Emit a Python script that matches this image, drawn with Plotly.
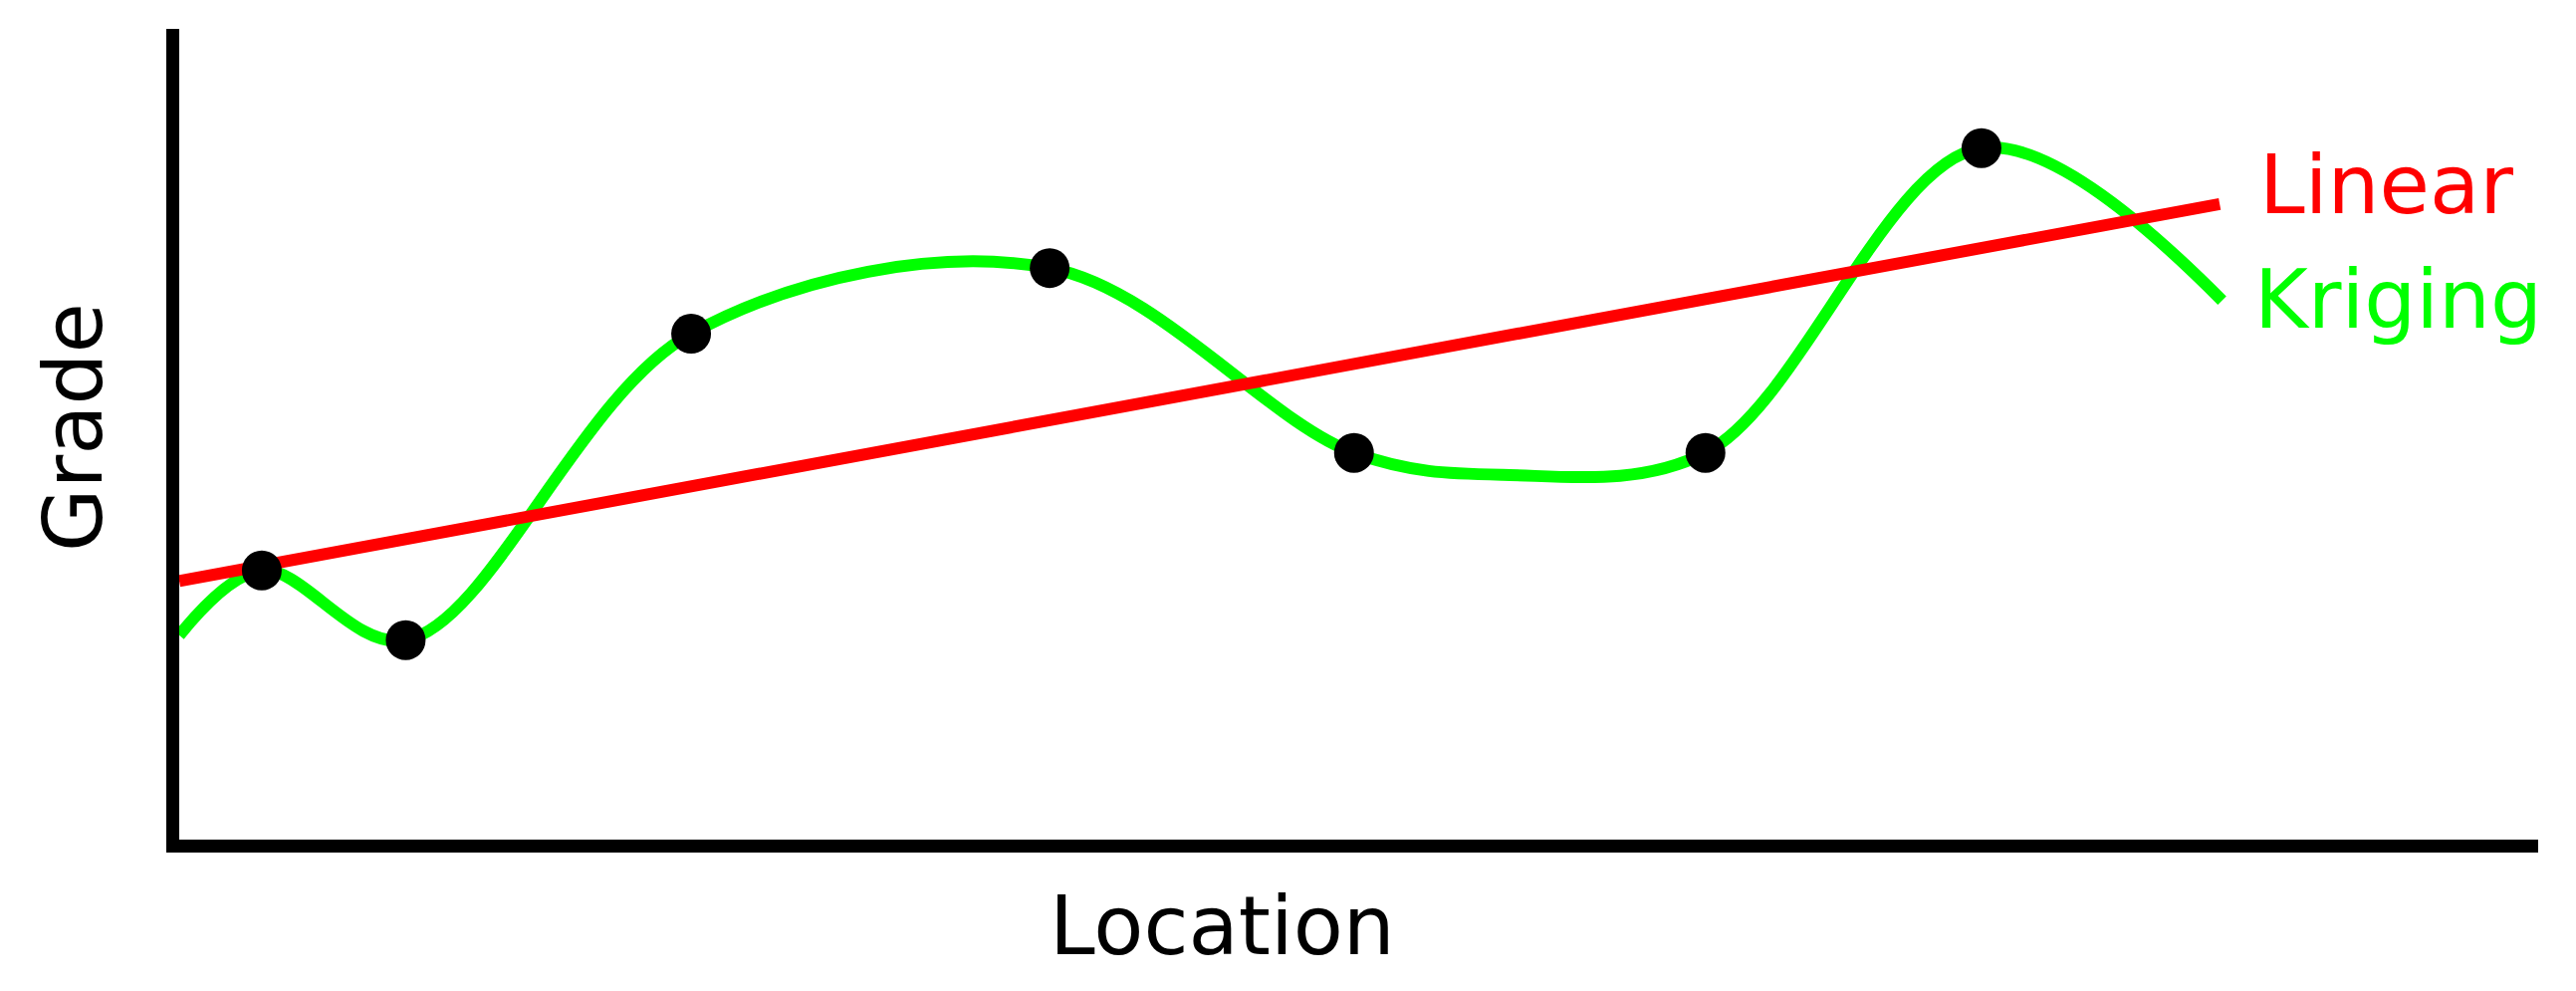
import plotly.graph_objects as go

# Sample locations and grades (the black dots)
sample_x = [3.5, 9.6, 21.7, 36.9, 49.8, 64.7, 76.4]
sample_y = [33.2, 24.6, 62.4, 70.5, 47.7, 47.7, 85.3]

# Kriging curve (passes through the samples)
kriging_x = [0.0, 3.5, 9.6, 21.7, 36.9, 49.8, 56.1, 64.7, 76.4, 86.6]
kriging_y = [25.2, 33.2, 24.6, 62.4, 70.5, 47.7, 45.0, 47.7, 85.3, 66.5]

# Linear trend end points
linear_x = [0.0, 86.5]
linear_y = [31.9, 78.4]

FONT = "DejaVu Sans"
RED = "#ff0000"
GREEN = "#00ff00"

fig = go.Figure()
fig.add_trace(go.Scatter(
    x=kriging_x, y=kriging_y,
    mode="lines",
    line=dict(color=GREEN, width=12, shape="spline", smoothing=1.0),
    hoverinfo="skip"
))
fig.add_trace(go.Scatter(
    x=linear_x, y=linear_y,
    mode="lines",
    line=dict(color=RED, width=12),
    hoverinfo="skip"
))
fig.add_trace(go.Scatter(
    x=sample_x, y=sample_y,
    mode="markers",
    marker=dict(color="black", size=40),
    cliponaxis=False
))

# Line labels next to the line ends
fig.add_annotation(x=88.1, y=80.8, text="Linear", showarrow=False,
                   xanchor="left", yanchor="middle",
                   font=dict(family=FONT, size=82, color=RED))
fig.add_annotation(x=87.9, y=66.7, text="Kriging", showarrow=False,
                   xanchor="left", yanchor="middle",
                   font=dict(family=FONT, size=82, color=GREEN))

# Axis labels
fig.add_annotation(x=0.442, y=-0.106, xref="paper", yref="paper",
                   text="Location", showarrow=False,
                   xanchor="center", yanchor="middle",
                   font=dict(family=FONT, size=82, color="black"))
fig.add_annotation(x=-0.045, y=0.509, xref="paper", yref="paper",
                   text="Grade", showarrow=False, textangle=-90,
                   xanchor="center", yanchor="middle",
                   font=dict(family=FONT, size=82, color="black"))

# the page body has an 8px margin, so the figure is a little smaller
fig.update_layout(
    width=2571,
    height=979,
    margin=dict(l=172, r=30, t=21, b=144),
    plot_bgcolor="white",
    paper_bgcolor="white",
    showlegend=False,
    xaxis=dict(range=[0, 100], showgrid=False, zeroline=False,
               showticklabels=False, ticks="",
               showline=True, linecolor="black", linewidth=13),
    yaxis=dict(range=[0, 100], showgrid=False, zeroline=False,
               showticklabels=False, ticks="",
               showline=True, linecolor="black", linewidth=13),
)

fig.write_html("out.html")
